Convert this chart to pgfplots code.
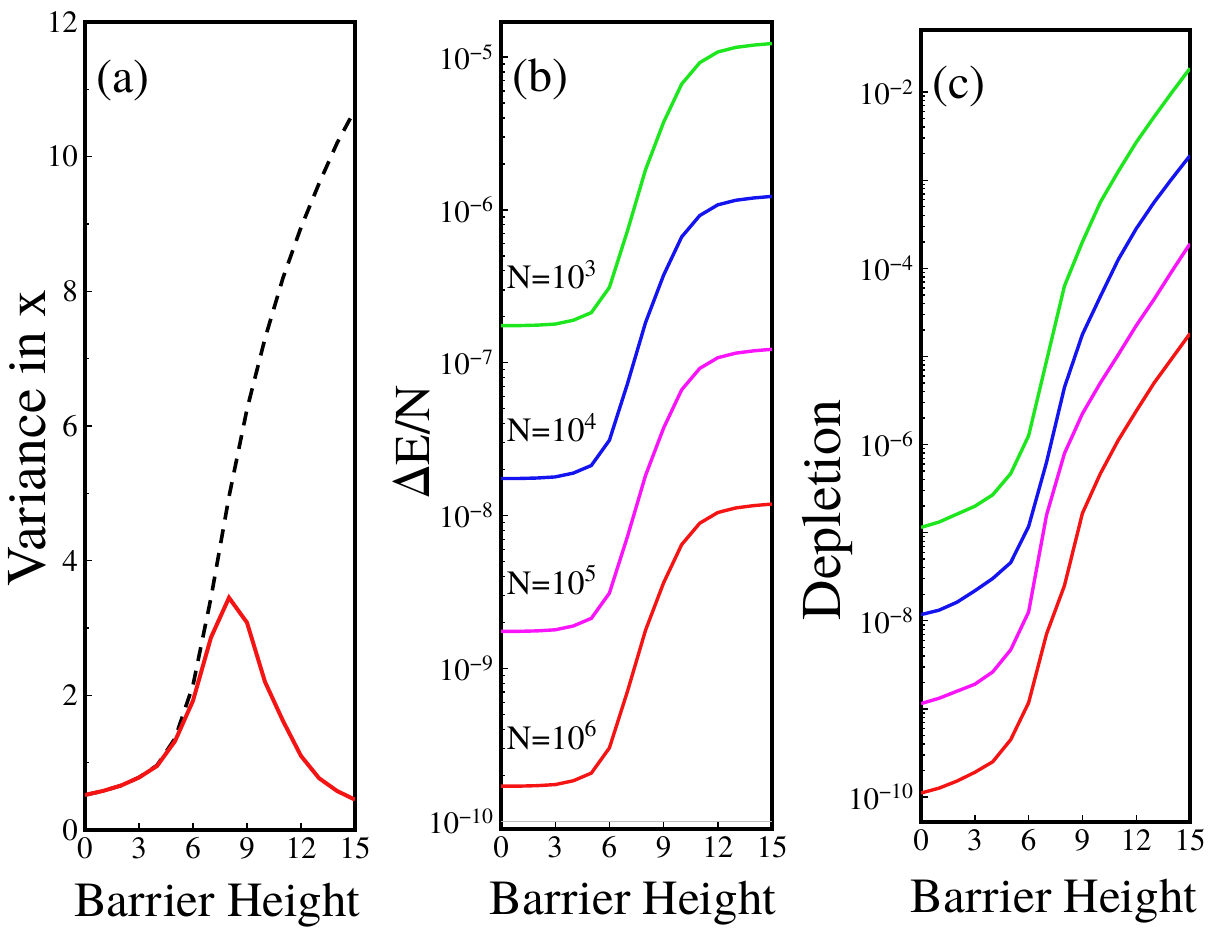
\documentclass[border=0pt]{standalone}
\usepackage{fontspec}
\IfFontExistsTF{texgyretermes-regular.otf}
  {\setmainfont{texgyretermes-regular.otf}[BoldFont=texgyretermes-bold.otf]}
  {\setmainfont{Liberation Serif}}
\usepackage{pgfplots}
\pgfplotsset{compat=1.18}

\definecolor{cgreen}{RGB}{30,230,30}
\definecolor{cblue}{RGB}{20,20,240}
\definecolor{cmag}{RGB}{250,20,250}
\definecolor{cred}{RGB}{245,20,20}

\pgfplotsset{
  myaxis/.style={
    scale only axis, anchor=south west,
    xmin=0, xmax=15, xtick={0,3,6,9,12,15}, xticklabels={0,3,6,9,12,15},
    tick align=inside, xtick pos=left, ytick pos=left,
    axis line style={line width=2pt},
    major tick length=3.5pt, minor tick length=2pt,
    every tick/.style={black, line width=0.7pt},
    tick label style={font=\rmfamily\fontsize{15.5}{18}\selectfont},
    /pgf/number format/assume math mode=true,
    xlabel={Barrier Height},
    xlabel style={font=\rmfamily\fontsize{24.5}{28}\selectfont, anchor=center},
    ylabel style={anchor=center},
  },
  curve/.style={line width=1.7pt, mark=none},
}

\begin{document}
\rmfamily
\begin{tikzpicture}[font=\rmfamily]
\useasboundingbox (0,0) rectangle (607pt,466pt);

% ---------------- (a) ----------------
\begin{axis}[myaxis,
  at={(42.5pt,51pt)}, width=135pt, height=404pt,
  ymin=0, ymax=12, ytick={0,2,4,6,8,10,12}, minor y tick num=1,
  ylabel={Variance in x},
  ylabel style={font=\rmfamily\fontsize{28}{32}\selectfont, at={(axis description cs:-0.215,0.485)}},
  xlabel style={at={(axis description cs:0.49,-0.093)}},
]
\addplot[black, line width=1.8pt, dash pattern=on 7pt off 5pt] coordinates {
(0,0.52) (1,0.58) (2,0.66) (3,0.78) (4,0.96) (5,1.36) (6,2.15) (7,3.45)
(8,4.95) (9,6.25) (10,7.3) (11,8.2) (12,8.95) (13,9.6) (14,10.2) (15,10.7)};
\addplot[cred, line width=2pt] coordinates {
(0,0.52) (1,0.58) (2,0.66) (3,0.78) (4,0.95) (5,1.32) (6,1.92) (7,2.86)
(8,3.45) (9,3.08) (10,2.2) (11,1.62) (12,1.1) (13,0.77) (14,0.58) (15,0.45)};
\node[font=\rmfamily\fontsize{24}{28}\selectfont, inner sep=0pt] at (rel axis cs:0.14,0.928) {(a)};
\end{axis}

% ---------------- (b) ----------------
\begin{axis}[myaxis,
  at={(250.5pt,51.5pt)}, width=135.5pt, height=403.5pt,
  ymode=log, ymin=8.91e-11, ymax=1.694e-5,
  ytick={1e-10,1e-9,1e-8,1e-7,1e-6,1e-5},
  yticklabels={10\textsuperscript{−10},10\textsuperscript{−9},10\textsuperscript{−8},10\textsuperscript{−7},10\textsuperscript{−6},10\textsuperscript{−5}},
  ylabel={ΔE/N},
  ylabel style={font=\rmfamily\fontsize{25}{30}\selectfont, at={(axis description cs:-0.33,0.48)}},
  xlabel style={at={(axis description cs:0.487,-0.092)}},
]
\addplot[gray!50, line width=0.5pt] coordinates {(0,1e-10) (15,1e-10)};
\addplot[cgreen, curve] coordinates {
(0,1.75e-7) (1,1.75e-7) (2,1.762e-7) (3,1.791e-7) (4,1.897e-7) (5,2.128e-7) (6,3.112e-7) (7,7.295e-7)
(8,1.832e-6) (9,3.742e-6) (10,6.654e-6) (11,9.184e-6) (12,1.079e-5) (13,1.156e-5) (14,1.197e-5) (15,1.225e-5)};
\addplot[cblue, curve] coordinates {
(0,1.75e-8) (1,1.75e-8) (2,1.762e-8) (3,1.791e-8) (4,1.897e-8) (5,2.128e-8) (6,3.112e-8) (7,7.295e-8)
(8,1.832e-7) (9,3.742e-7) (10,6.654e-7) (11,9.184e-7) (12,1.079e-6) (13,1.156e-6) (14,1.197e-6) (15,1.225e-6)};
\addplot[cmag, curve] coordinates {
(0,1.75e-9) (1,1.75e-9) (2,1.762e-9) (3,1.791e-9) (4,1.897e-9) (5,2.128e-9) (6,3.112e-9) (7,7.295e-9)
(8,1.832e-8) (9,3.742e-8) (10,6.654e-8) (11,9.184e-8) (12,1.079e-7) (13,1.156e-7) (14,1.197e-7) (15,1.225e-7)};
\addplot[cred, curve] coordinates {
(0,1.7e-10) (1,1.7e-10) (2,1.712e-10) (3,1.74e-10) (4,1.843e-10) (5,2.068e-10) (6,3.023e-10) (7,7.087e-10)
(8,1.78e-9) (9,3.635e-9) (10,6.464e-9) (11,8.922e-9) (12,1.048e-8) (13,1.123e-8) (14,1.163e-8) (15,1.19e-8)};
\node[font=\rmfamily\fontsize{24}{28}\selectfont, inner sep=0pt] at (rel axis cs:0.144,0.929) {(b)};
\node[font=\rmfamily\fontsize{17}{20}\selectfont, inner sep=0pt, anchor=base west] at (axis cs:0.3,3.05e-7) {N=10\textsuperscript{3}};
\node[font=\rmfamily\fontsize{17}{20}\selectfont, inner sep=0pt, anchor=base west] at (axis cs:0.3,3.05e-8) {N=10\textsuperscript{4}};
\node[font=\rmfamily\fontsize{17}{20}\selectfont, inner sep=0pt, anchor=base west] at (axis cs:0.3,3.05e-9) {N=10\textsuperscript{5}};
\node[font=\rmfamily\fontsize{17}{20}\selectfont, inner sep=0pt, anchor=base west] at (axis cs:0.3,2.95e-10) {N=10\textsuperscript{6}};
\end{axis}

% ---------------- (c) ----------------
\begin{axis}[myaxis,
  at={(460.5pt,55pt)}, width=134.5pt, height=396pt,
  ymode=log, ymin=5.2e-11, ymax=5.07e-2,
  ytick={1e-10,1e-9,1e-8,1e-7,1e-6,1e-5,1e-4,1e-3,1e-2},
  yticklabels={10\textsuperscript{−10},,10\textsuperscript{−8},,10\textsuperscript{−6},,10\textsuperscript{−4},,10\textsuperscript{−2}},
  ylabel={Depletion},
  ylabel style={font=\rmfamily\fontsize{28}{32}\selectfont, at={(axis description cs:-0.346,0.394)}},
  xlabel style={at={(axis description cs:0.494,-0.1)}},
]
\addplot[cgreen, curve] coordinates {
(0,1.148e-7) (1,1.318e-7) (2,1.622e-7) (3,1.995e-7) (4,2.692e-7) (5,4.677e-7) (6,1.259e-6) (7,8.913e-6)
(8,6.310e-5) (9,1.995e-4) (10,5.623e-4) (11,1.259e-3) (12,2.692e-3) (13,5.248e-3) (14,1.0e-2) (15,1.862e-2)};
\addplot[cblue, curve] coordinates {
(0,1.175e-8) (1,1.318e-8) (2,1.622e-8) (3,2.188e-8) (4,3.020e-8) (5,4.571e-8) (6,1.175e-7) (7,6.310e-7)
(8,4.467e-6) (9,1.778e-5) (10,4.786e-5) (11,1.259e-4) (12,2.818e-4) (13,5.623e-4) (14,1.047e-3) (15,1.905e-3)};
\addplot[cmag, curve] coordinates {
(0,1.148e-9) (1,1.318e-9) (2,1.585e-9) (3,1.905e-9) (4,2.630e-9) (5,4.677e-9) (6,1.259e-8) (7,1.585e-7)
(8,7.943e-7) (9,2.239e-6) (10,5.012e-6) (11,1.047e-5) (12,2.239e-5) (13,4.467e-5) (14,9.333e-5) (15,1.905e-4)};
\addplot[cred, curve] coordinates {
(0,1.109e-10) (1,1.259e-10) (2,1.514e-10) (3,1.905e-10) (4,2.512e-10) (5,4.467e-10) (6,1.175e-9) (7,7.079e-9)
(8,2.512e-8) (9,1.660e-7) (10,4.677e-7) (11,1.122e-6) (12,2.399e-6) (13,5.012e-6) (14,9.550e-6) (15,1.820e-5)};
\node[font=\rmfamily\fontsize{24}{28}\selectfont, inner sep=0pt] at (rel axis cs:0.141,0.929) {(c)};
\end{axis}
\end{tikzpicture}
\end{document}
